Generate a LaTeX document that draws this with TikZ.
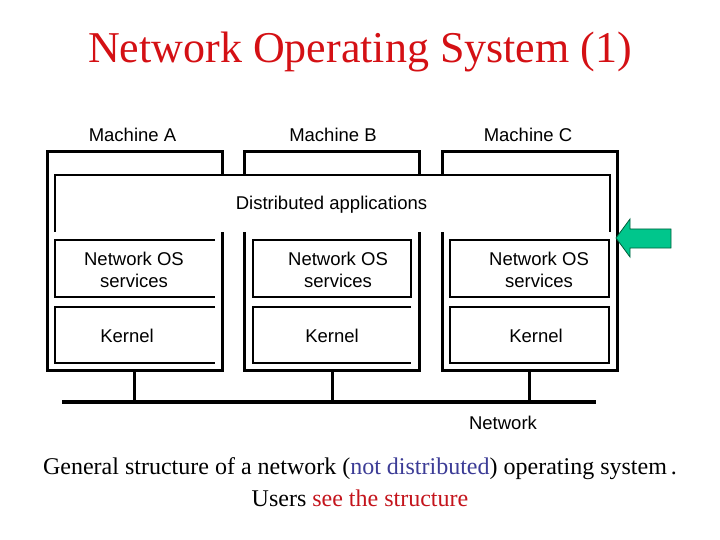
\documentclass[tikz,border=0pt]{standalone}
\usepackage{fontspec}
\setmainfont{Liberation Serif}
\setsansfont{Liberation Sans}
\definecolor{titlered}{RGB}{212,16,20}
\definecolor{capblue}{RGB}{60,60,150}
\definecolor{capred}{RGB}{196,20,28}
\definecolor{arrowgreen}{RGB}{0,198,140}
\definecolor{arrowedge}{RGB}{0,96,60}
\begin{document}
\begin{tikzpicture}[x=10pt,y=10pt,
    machine/.style={draw, line width=3pt, inner sep=0pt, minimum width=175pt, minimum height=218pt},
    label/.style={font=\sffamily\fontsize{18.5}{22}\selectfont, align=center, inner sep=0pt},
    thin/.style={line width=1.2pt}]
                \useasboundingbox (0,0) rectangle (72,-54);
                % title
                \node[anchor=base, text=titlered, font=\fontsize{44}{50}\selectfont] (title) at (36,-6.25) {Network Operating System (1)};
                % machines
                \node[machine] (machA) at (13.45,-26.1) {};
                \node[machine] (machB) at (33.2,-26.1) {};
                \node[machine] (machC) at (52.95,-26.1) {};
                \node[label] (labA) at (13.25,-13.5) {Machine A};
                \node[label] (labB) at (33.3,-13.5) {Machine B};
                \node[label] (labC) at (52.8,-13.5) {Machine C};
                % distributed applications
                \fill [white] (5.5,-17.5) rectangle (61,-23.2);
                \draw [thin] (5.5,-23.2) -- (5.5,-17.5) -- (61,-17.5) -- (61,-23.2);
                \node[label] (dist) at (33.15,-20.5) {Distributed applications};
                % network OS services
                \draw [thin] (21.5,-24) -- (5.5,-24) -- (5.5,-29.7) -- (21.5,-29.7);
                \draw [thin] (25.3,-24) rectangle (41.1,-29.7);
                \draw [thin] (45,-24) rectangle (60.9,-29.7);
                \node[label] (nosA) at (13.4,-26.95) {Network OS\\services};
                \node[label] (nosB) at (33.8,-26.95) {Network OS\\services};
                \node[label] (nosC) at (53.9,-26.95) {Network OS\\services};
                % kernels
                \draw [thin] (21.5,-30.7) -- (5.5,-30.7) -- (5.5,-36.3) -- (21.5,-36.3);
                \draw [thin] (41.1,-30.7) -- (25.3,-30.7) -- (25.3,-36.3) -- (41.1,-36.3);
                \draw [thin] (45,-30.7) rectangle (60.9,-36.3);
                \node[label] (kerA) at (12.7,-33.6) {Kernel};
                \node[label] (kerB) at (33.2,-33.6) {Kernel};
                \node[label] (kerC) at (53.6,-33.6) {Kernel};
                % network
                \coordinate (netL) at (6.2,-40.2);
                \coordinate (netR) at (59.6,-40.2);
                \draw [line width=4pt] (netL) -- (netR);
                \draw [line width=3pt] (machA.south) -- (machA.south |- netL);
                \draw [line width=3pt] (machB.south) -- (machB.south |- netL);
                \draw [line width=3pt] (machC.south) -- (machC.south |- netL);
                \node[label] (net) at (50.3,-42.3) {Network};
                % green arrow
                \filldraw [fill=arrowgreen, draw=arrowedge, line width=0.8pt] (61.6,-23.8) -- (63,-21.9) -- (63,-22.9) -- (67.1,-22.9) -- (67.1,-24.8) -- (63,-24.8) -- (63,-25.7) -- cycle;
                % caption
                \node[anchor=base, font=\fontsize{24}{28}\selectfont] (cap1) at (36,-47.4) {General structure of a network (\textcolor{capblue}{not distributed}) operating system\,.};
                \node[anchor=base, font=\fontsize{24}{28}\selectfont] (cap2) at (36,-50.6) {Users \textcolor{capred}{see the structure}};
            \end{tikzpicture}
\end{document}
